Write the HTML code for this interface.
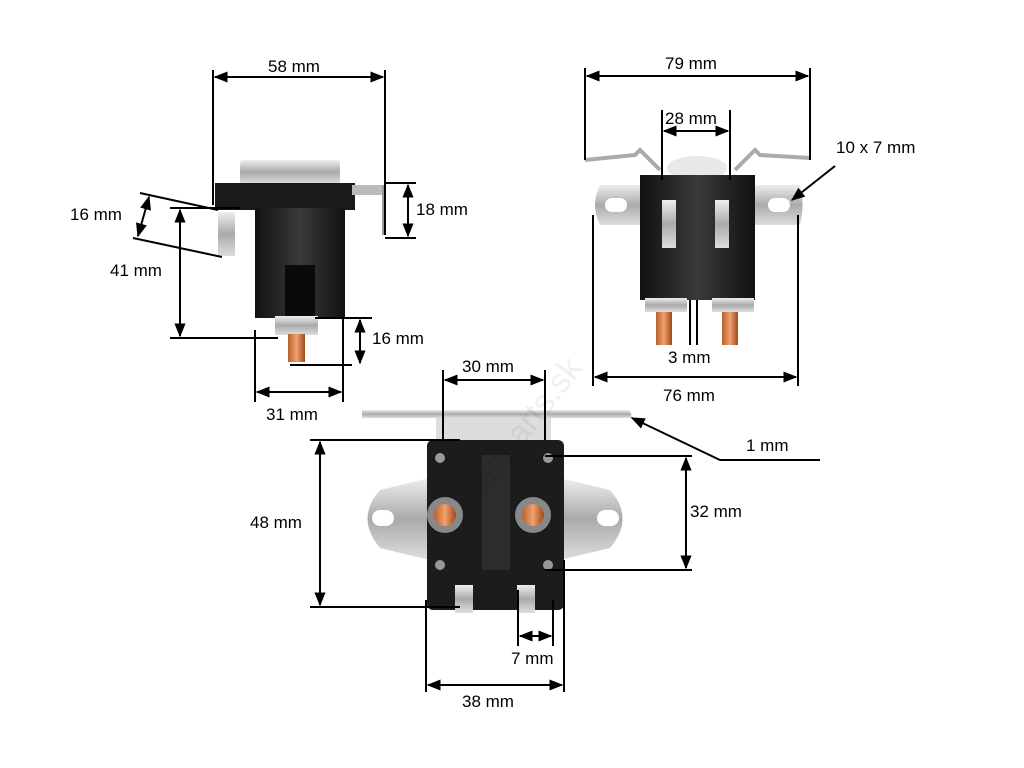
<!DOCTYPE html>
<html><head><meta charset="utf-8"><style>
html,body{margin:0;padding:0;background:#fff;}
svg{display:block;}
text{font-family:"Liberation Sans",Arial,sans-serif;font-size:17px;fill:#000;}
</style></head><body>
<svg width="1024" height="768" viewBox="0 0 1024 768" xmlns="http://www.w3.org/2000/svg">
<defs>
<marker id="a" viewBox="0 0 10 10" refX="9" refY="5" markerWidth="7" markerHeight="7" orient="auto-start-reverse"><path d="M0,1 L10,5 L0,9 z" fill="#000"/></marker>
<linearGradient id="sil" x1="0" y1="0" x2="0" y2="1"><stop offset="0" stop-color="#eee"/><stop offset="0.5" stop-color="#aaa"/><stop offset="1" stop-color="#ddd"/></linearGradient>
<linearGradient id="cu" x1="0" y1="0" x2="1" y2="0"><stop offset="0" stop-color="#b8602a"/><stop offset="0.5" stop-color="#f0a070"/><stop offset="1" stop-color="#a04818"/></linearGradient>
<linearGradient id="blk" x1="0" y1="0" x2="1" y2="0"><stop offset="0" stop-color="#111"/><stop offset="0.5" stop-color="#3a3a3a"/><stop offset="1" stop-color="#111"/></linearGradient>
</defs>

<!-- ===== Top-left device ===== -->
<rect x="240" y="160" width="100" height="24" fill="url(#sil)" rx="3"/>
<rect x="215" y="183" width="140" height="27" fill="#1a1a1a"/>
<rect x="352" y="185" width="30" height="10" fill="#bbb"/>
<rect x="382" y="185" width="4" height="50" fill="#999"/>
<rect x="255" y="208" width="90" height="110" fill="url(#blk)"/>
<rect x="285" y="265" width="30" height="53" fill="#0a0a0a"/>
<rect x="218" y="212" width="17" height="44" fill="url(#sil)"/>
<rect x="275" y="316" width="43" height="19" fill="url(#sil)"/>
<rect x="288" y="334" width="17" height="28" fill="url(#cu)"/>

<g stroke="#000" stroke-width="2" fill="none">
<line x1="213" y1="70" x2="213" y2="205"/>
<line x1="385" y1="70" x2="385" y2="235"/>
<line x1="215" y1="77" x2="383" y2="77" marker-start="url(#a)" marker-end="url(#a)"/>
<line x1="385" y1="183" x2="416" y2="183"/>
<line x1="385" y1="238" x2="416" y2="238"/>
<line x1="408" y1="185" x2="408" y2="236" marker-start="url(#a)" marker-end="url(#a)"/>
<line x1="140" y1="193" x2="218" y2="210"/>
<line x1="133" y1="238" x2="222" y2="257"/>
<line x1="149" y1="197" x2="138" y2="236" marker-start="url(#a)" marker-end="url(#a)"/>
<line x1="170" y1="208" x2="240" y2="208"/>
<line x1="170" y1="338" x2="278" y2="338"/>
<line x1="180" y1="210" x2="180" y2="336" marker-start="url(#a)" marker-end="url(#a)"/>
<line x1="315" y1="318" x2="372" y2="318"/>
<line x1="290" y1="365" x2="352" y2="365"/>
<line x1="360" y1="320" x2="360" y2="363" marker-start="url(#a)" marker-end="url(#a)"/>
<line x1="255" y1="330" x2="255" y2="402"/>
<line x1="343" y1="318" x2="343" y2="402"/>
<line x1="257" y1="392" x2="341" y2="392" marker-start="url(#a)" marker-end="url(#a)"/>
</g>
<text x="268" y="72">58 mm</text>
<text x="416" y="215">18 mm</text>
<text x="70" y="220">16 mm</text>
<text x="110" y="276">41 mm</text>
<text x="372" y="344">16 mm</text>
<text x="266" y="420">31 mm</text>

<!-- ===== Top-right device ===== -->
<path d="M585,160 L635,155 L640,150 L660,170" stroke="#aaa" stroke-width="4" fill="none"/>
<path d="M810,158 L760,155 L755,150 L735,170" stroke="#aaa" stroke-width="4" fill="none"/>
<ellipse cx="697" cy="168" rx="30" ry="12" fill="#e8e8e8"/>
<path d="M600,185 L800,185 Q805,205 800,225 L600,225 Q590,205 600,185 Z" fill="url(#sil)"/>
<rect x="605" y="198" width="22" height="14" rx="7" fill="#fff"/>
<rect x="768" y="198" width="22" height="14" rx="7" fill="#fff"/>
<rect x="640" y="175" width="115" height="125" fill="url(#blk)"/>
<rect x="662" y="200" width="14" height="48" fill="url(#sil)"/>
<rect x="715" y="200" width="14" height="48" fill="url(#sil)"/>
<rect x="645" y="298" width="42" height="14" fill="url(#sil)"/>
<rect x="712" y="298" width="42" height="14" fill="url(#sil)"/>
<rect x="656" y="312" width="16" height="33" fill="url(#cu)"/>
<rect x="722" y="312" width="16" height="33" fill="url(#cu)"/>
<g stroke="#000" stroke-width="2" fill="none">
<line x1="585" y1="68" x2="585" y2="160"/>
<line x1="810" y1="68" x2="810" y2="160"/>
<line x1="587" y1="76" x2="808" y2="76" marker-start="url(#a)" marker-end="url(#a)"/>
<line x1="662" y1="110" x2="662" y2="180"/>
<line x1="730" y1="110" x2="730" y2="180"/>
<line x1="664" y1="131" x2="728" y2="131" marker-start="url(#a)" marker-end="url(#a)"/>
<line x1="835" y1="166" x2="792" y2="200" marker-end="url(#a)"/>
<line x1="690" y1="300" x2="690" y2="345"/>
<line x1="697" y1="300" x2="697" y2="345"/>
<line x1="593" y1="215" x2="593" y2="386"/>
<line x1="798" y1="215" x2="798" y2="386"/>
<line x1="595" y1="377" x2="796" y2="377" marker-start="url(#a)" marker-end="url(#a)"/>
</g>
<text x="665" y="69">79 mm</text>
<text x="665" y="124">28 mm</text>
<text x="836" y="153">10 x 7 mm</text>
<text x="668" y="363">3 mm</text>
<text x="663" y="401">76 mm</text>

<!-- ===== Bottom device ===== -->
<path d="M362,410 L630,410 L632,418 L362,418 Z" fill="url(#sil)"/>
<rect x="436" y="418" width="115" height="22" fill="#ddd"/>
<path d="M430,478 L380,490 Q355,518 380,548 L430,560 Z" fill="url(#sil)"/>
<path d="M560,478 L610,490 Q635,518 610,548 L560,560 Z" fill="url(#sil)"/>
<rect x="372" y="510" width="22" height="16" rx="8" fill="#fff"/>
<rect x="597" y="510" width="22" height="16" rx="8" fill="#fff"/>
<rect x="427" y="440" width="137" height="170" rx="6" fill="#1c1c1c"/>
<rect x="482" y="455" width="28" height="115" fill="#2c2c2c"/>
<circle cx="440" cy="458" r="5" fill="#999"/><circle cx="548" cy="458" r="5" fill="#999"/>
<circle cx="440" cy="565" r="5" fill="#999"/><circle cx="548" cy="565" r="5" fill="#999"/>
<circle cx="445" cy="515" r="18" fill="#888"/><circle cx="445" cy="515" r="11" fill="url(#cu)"/>
<circle cx="533" cy="515" r="18" fill="#888"/><circle cx="533" cy="515" r="11" fill="url(#cu)"/>
<rect x="455" y="585" width="18" height="28" fill="url(#sil)"/>
<rect x="517" y="585" width="18" height="28" fill="url(#sil)"/>
<text x="420" y="470" transform="rotate(-52 480 420)" style="font-size:34px;fill:#000;fill-opacity:0.06">dieparts.sk</text>
<g stroke="#000" stroke-width="2" fill="none">
<line x1="443" y1="370" x2="443" y2="440"/>
<line x1="545" y1="370" x2="545" y2="440"/>
<line x1="445" y1="380" x2="543" y2="380" marker-start="url(#a)" marker-end="url(#a)"/>
<polyline points="820,460 720,460 632,418" marker-end="url(#a)"/>
<line x1="310" y1="440" x2="460" y2="440"/>
<line x1="310" y1="607" x2="460" y2="607"/>
<line x1="320" y1="442" x2="320" y2="605" marker-start="url(#a)" marker-end="url(#a)"/>
<line x1="545" y1="456" x2="692" y2="456"/>
<line x1="545" y1="570" x2="692" y2="570"/>
<line x1="686" y1="458" x2="686" y2="568" marker-start="url(#a)" marker-end="url(#a)"/>
<line x1="518" y1="590" x2="518" y2="646"/>
<line x1="553" y1="600" x2="553" y2="646"/>
<line x1="520" y1="636" x2="551" y2="636" marker-start="url(#a)" marker-end="url(#a)"/>
<line x1="426" y1="600" x2="426" y2="692"/>
<line x1="564" y1="560" x2="564" y2="692"/>
<line x1="428" y1="685" x2="562" y2="685" marker-start="url(#a)" marker-end="url(#a)"/>
</g>
<text x="462" y="372">30 mm</text>
<text x="746" y="451">1 mm</text>
<text x="250" y="528">48 mm</text>
<text x="690" y="517">32 mm</text>
<text x="511" y="664">7 mm</text>
<text x="462" y="707">38 mm</text>
</svg>
</body></html>
